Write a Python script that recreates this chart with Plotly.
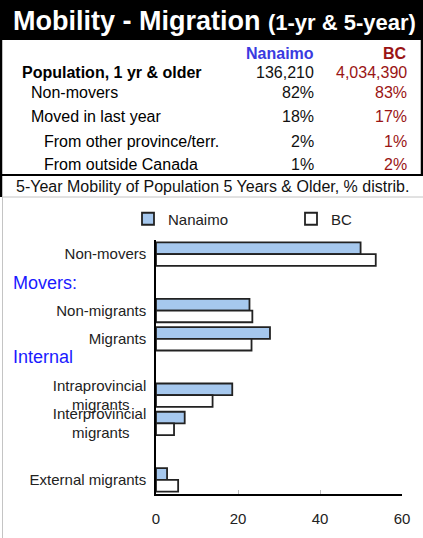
import plotly.graph_objects as go

W, H = 423, 538

# table data (1-year mobility)
row_labels = ["Population, 1 yr & older", "Non-movers", "Moved in last year",
              "From other province/terr.", "From outside Canada"]
nanaimo_tbl = ["136,210", "82%", "18%", "2%", "1%"]
bc_tbl = ["4,034,390", "83%", "17%", "1%", "2%"]

# chart data (5-year mobility, % distribution)
categories = ["Non-movers", "Movers:", "Non-migrants", "Migrants", "Internal",
              "Intraprovincial migrants", "Interprovincial migrants", "gap", "External migrants"]
tick_text = ["Non-movers", "", "Non-migrants", "Migrants", "",
             "Intraprovincial<br>migrants\u00a0\u00a0\u00a0\u00a0",
             "Interprovincial<br>migrants\u00a0\u00a0\u00a0\u00a0", "", "External migrants"]
nanaimo = [49.9, None, 22.8, 27.8, None, 18.6, 7.0, None, 2.7]
bc = [53.6, None, 23.5, 23.3, None, 13.8, 4.4, None, 5.4]
group_labels = ["Movers:", "Internal"]

FONT = "Arial, Liberation Sans, sans-serif"
BLUE_T = "#3a3ae0"
RED_T = "#9a1414"


def px(x):
    return x / W


def py(y):
    return 1 - y / H


fig = go.Figure()
fig.add_trace(go.Bar(y=categories, x=nanaimo, orientation="h", name="Nanaimo",
                     marker=dict(color="#a6c8ee", line=dict(color="#222", width=1.8))))
fig.add_trace(go.Bar(y=categories, x=bc, orientation="h", name="BC",
                     marker=dict(color="white", line=dict(color="#222", width=1.8))))

shapes = [
    dict(type="rect", xref="paper", yref="paper", x0=0, x1=1, y0=py(40), y1=1,
         fillcolor="black", line_width=0),
    dict(type="line", xref="paper", yref="paper", x0=px(1), x1=px(1), y0=py(40), y1=py(197),
         line=dict(color="black", width=2.5)),
    dict(type="line", xref="paper", yref="paper", x0=px(422), x1=px(422), y0=py(40), y1=py(175),
         line=dict(color="black", width=2.5)),
    dict(type="line", xref="paper", yref="paper", x0=0, x1=1, y0=py(175), y1=py(175),
         line=dict(color="black", width=2)),
    dict(type="line", xref="paper", yref="paper", x0=px(2), x1=1, y0=py(197), y1=py(197),
         line=dict(color="#c4c4c4", width=1)),
    dict(type="line", xref="paper", yref="paper", x0=px(2.5), x1=px(2.5), y0=py(197), y1=0,
         line=dict(color="#c4c4c4", width=1)),
]

ann = []
ann.append(dict(x=px(11), y=py(21), xref="paper", yref="paper", xanchor="left", yanchor="middle",
                showarrow=False,
                text="<b>Mobility - Migration <span style='font-size:22px'>(1-yr & 5-year)</span></b>",
                font=dict(family=FONT, size=27, color="white")))
ann.append(dict(x=px(316), y=py(54), xref="paper", yref="paper", xanchor="right", yanchor="middle",
                showarrow=False, text="<b>Nanaimo</b>", font=dict(family=FONT, size=16, color=BLUE_T)))
ann.append(dict(x=px(409), y=py(54), xref="paper", yref="paper", xanchor="right", yanchor="middle",
                showarrow=False, text="<b>BC</b>", font=dict(family=FONT, size=16, color=RED_T)))
row_y = [73, 92, 117, 141, 164]
row_x = [20, 29, 29, 42, 42]
for i, lab in enumerate(row_labels):
    txt = "<b>%s</b>" % lab if i == 0 else lab
    ann.append(dict(x=px(row_x[i]), y=py(row_y[i]), xref="paper", yref="paper", xanchor="left",
                    yanchor="middle", showarrow=False, text=txt,
                    font=dict(family=FONT, size=16, color="black")))
    ann.append(dict(x=px(316), y=py(row_y[i]), xref="paper", yref="paper", xanchor="right",
                    yanchor="middle", showarrow=False, text=nanaimo_tbl[i],
                    font=dict(family=FONT, size=16, color="#111")))
    ann.append(dict(x=px(409), y=py(row_y[i]), xref="paper", yref="paper", xanchor="right",
                    yanchor="middle", showarrow=False, text=bc_tbl[i],
                    font=dict(family=FONT, size=16, color=RED_T)))
ann.append(dict(x=px(14), y=py(186), xref="paper", yref="paper", xanchor="left", yanchor="middle",
                showarrow=False, text="5-Year Mobility of Population 5 Years & Older, % distrib.",
                font=dict(family=FONT, size=16, color="#111")))
for lab, yy in zip(group_labels, [283, 357]):
    ann.append(dict(x=px(11), y=py(yy), xref="paper", yref="paper", xanchor="left", yanchor="middle",
                    showarrow=False, text=lab, font=dict(family=FONT, size=18, color="#1a1aff")))

fig.update_layout(
    width=W, height=H,
    margin=dict(l=0, r=0, t=0, b=0, autoexpand=False),
    paper_bgcolor="white", plot_bgcolor="white",
    font=dict(family=FONT, size=15, color="#222"),
    barmode="group", bargap=0.17, bargroupgap=0,
    showlegend=True,
    legend=dict(orientation="h", x=px(128), y=py(219), xanchor="left", yanchor="middle",
                entrywidth=118, font=dict(size=15, color="#222"), bgcolor="rgba(0,0,0,0)",
                traceorder="normal"),
    shapes=shapes, annotations=ann,
)
fig.update_xaxes(domain=[px(156), px(402)], range=[0, 60], tickvals=[0, 20, 40, 60],
                 showgrid=False, zeroline=False, showline=True, linecolor="black", linewidth=1.5,
                 ticks="inside", ticklen=4, tickcolor="#bbb", ticklabelstandoff=10,
                 tickfont=dict(size=15, color="#222"))
fig.update_yaxes(domain=[py(494), py(240)], categoryorder="array", categoryarray=categories,
                 autorange="reversed", tickvals=categories, ticktext=tick_text,
                 showgrid=False, zeroline=False, showline=True, linecolor="black", linewidth=1.5,
                 ticks="", ticklabelstandoff=5, tickfont=dict(size=15, color="#222"))

# drop the page's default body margin so the figure sits at the window's corner
fig.write_html("out.html", config={"displayModeBar": False},
               post_script="document.body.style.margin='0px';")
